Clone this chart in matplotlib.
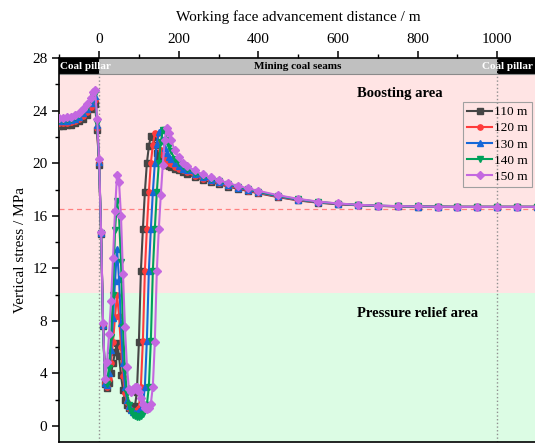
import numpy as np
import matplotlib
matplotlib.use('Agg')
import matplotlib.pyplot as plt
from matplotlib.ticker import MultipleLocator

##### Data #####
# Working face advancement distance, m
dist = [-100, -90, -80, -70, -60, -50, -40, -30, -20, -15, -10, -5, 0,
        5, 10, 15, 20, 25, 30, 35, 40, 45, 50, 55, 60, 65, 70, 75, 80, 85, 90, 95,
        100, 105, 110, 115, 120, 125, 130, 135, 140, 145, 150, 155, 160, 165, 170, 175, 180,
        190, 200, 210, 220,
        240, 260, 280, 300, 325, 350, 375, 400, 450, 500, 550, 600, 650, 700, 750,
        800, 850, 900, 950, 1000, 1050, 1100]

# Vertical stress, MPa
s110 = [22.85, 22.85, 22.9, 22.95, 23.05, 23.2, 23.4, 23.7, 24.1, 24.35, 24.5, 22.5, 19.9,
        14.6, 7.6, 3.2, 2.9, 3.3, 4.0, 4.8, 5.6, 6.3, 5.3, 3.9, 2.7, 2.0, 1.6, 1.4, 1.3, 1.3, 1.5, 2.6,
        6.4, 11.8, 15.0, 17.8, 20.0, 21.3, 22.1, 22.0, 21.4, 20.8, 20.45, 20.25, 20.1, 20.0, 19.9, 19.8, 19.72,
        19.58, 19.45, 19.33, 19.22,
        18.95, 18.75, 18.58, 18.42, 18.22, 18.05, 17.88, 17.72, 17.42, 17.17, 17.0, 16.88, 16.8, 16.75, 16.72,
        16.7, 16.69, 16.68, 16.68, 16.68, 16.68, 16.68]
s120 = [23.05, 23.05, 23.1, 23.15, 23.25, 23.4, 23.6, 23.9, 24.3, 24.6, 24.8, 22.7, 20.0,
        14.7, 7.7, 3.3, 3.0, 3.6, 4.8, 6.4, 8.3, 10.0, 8.4, 6.0, 3.8, 2.5, 1.8, 1.4, 1.2, 1.15, 1.15, 1.2,
        1.4, 3.0, 6.5, 11.8, 15.0, 17.8, 20.0, 21.4, 22.3, 22.2, 21.6, 21.0, 20.6, 20.35, 20.2, 20.05, 19.95,
        19.75, 19.6, 19.45, 19.32,
        19.05, 18.83, 18.65, 18.48, 18.28, 18.1, 17.92, 17.76, 17.45, 17.2, 17.02, 16.9, 16.81, 16.76, 16.72,
        16.7, 16.69, 16.68, 16.68, 16.68, 16.68, 16.68]
s130 = [23.2, 23.2, 23.25, 23.3, 23.4, 23.55, 23.8, 24.1, 24.6, 24.9, 25.1, 22.9, 20.1,
        14.7, 7.7, 3.3, 3.1, 4.0, 5.8, 8.2, 11.0, 13.5, 11.2, 7.8, 4.8, 3.0, 2.0, 1.5, 1.2, 1.05, 1.0, 1.0,
        1.1, 1.3, 1.6, 3.0, 6.5, 11.8, 15.0, 17.8, 20.0, 21.5, 22.4, 22.5, 21.8, 21.2, 20.8, 20.5, 20.3,
        20.0, 19.8, 19.6, 19.45,
        19.15, 18.92, 18.72, 18.55, 18.34, 18.15, 17.97, 17.8, 17.48, 17.23, 17.04, 16.91, 16.82, 16.76, 16.73,
        16.7, 16.69, 16.68, 16.68, 16.68, 16.68, 16.68]
s140 = [23.3, 23.3, 23.35, 23.4, 23.5, 23.7, 23.95, 24.3, 24.8, 25.1, 25.3, 23.1, 20.2,
        14.7, 7.7, 3.4, 3.2, 4.4, 6.8, 10.0, 14.9, 17.1, 16.0, 12.5, 7.5, 4.2, 2.5, 1.6, 1.1, 0.85, 0.75, 0.7,
        0.7, 0.75, 0.9, 1.2, 1.6, 3.0, 6.5, 11.8, 15.0, 17.8, 20.0, 21.6, 22.55, 22.5, 21.8, 21.3, 20.9,
        20.35, 20.05, 19.8, 19.6,
        19.28, 19.03, 18.82, 18.63, 18.41, 18.21, 18.02, 17.85, 17.52, 17.26, 17.06, 16.93, 16.83, 16.77, 16.73,
        16.71, 16.69, 16.68, 16.68, 16.68, 16.68, 16.68]
s150 = [23.45, 23.45, 23.5, 23.55, 23.65, 23.85, 24.1, 24.5, 25.0, 25.4, 25.6, 23.4, 20.3,
        14.8, 7.8, 3.6, 4.9, 7.0, 9.5, 12.8, 16.4, 19.1, 18.6, 16.0, 11.6, 7.5, 4.5, 2.8, 2.6, 2.8, 3.0, 3.0,
        2.6, 2.1, 1.7, 1.4, 1.3, 1.4, 1.7, 3.0, 6.4, 11.8, 15.0, 17.6, 19.9, 21.8, 22.65, 22.3, 21.8,
        21.0, 20.45, 20.05, 19.8,
        19.45, 19.15, 18.92, 18.72, 18.48, 18.27, 18.08, 17.9, 17.56, 17.29, 17.08, 16.94, 16.84, 16.78, 16.74,
        16.71, 16.69, 16.68, 16.68, 16.68, 16.68, 16.68]

labels  = ['110 m', '120 m', '130 m', '140 m', '150 m']
colors  = ['#454545', '#FF3B3B', '#1668D8', '#00A05A', '#C468E0']
markers = ['s', 'o', '^', 'v', 'D']

# Region limits
relief_top = 10.15
band_bot   = 26.77
stress_ref = 16.5

##### Figure #####
plt.rcParams['font.family'] = ['Liberation Serif', 'DejaVu Serif']
fig = plt.figure(figsize=(5.35, 4.43), dpi=100)
ax  = fig.add_axes([0.1108, 0.003, 0.893, 0.8656])

xmin, xmax = -100, 1100
ymin, ymax = -1.2, 28

# Background areas
ax.axhspan(ymin, relief_top, color='#DCFCE4', zorder=0, lw=0)
ax.axhspan(relief_top, band_bot, color='#FFE4E4', zorder=0, lw=0)

# Top band
ax.fill_between([xmin, 0], band_bot, ymax, color='black', lw=0, zorder=1)
ax.fill_between([0, 1000], band_bot, ymax, color='#C0C0C0', lw=0, zorder=1)
ax.fill_between([1000, xmax], band_bot, ymax, color='black', lw=0, zorder=1)
ax.axhline(band_bot, color='#8A8A8A', lw=0.8, zorder=1)
ax.text(-97, (band_bot+ymax)/2, 'Coal pillar', color='white', fontsize=8,
        fontweight='bold', ha='left', va='center', zorder=2)
ax.text(500, (band_bot+ymax)/2, 'Mining coal seams', color='black', fontsize=8,
        fontweight='bold', ha='center', va='center', zorder=2)
ax.text(963, (band_bot+ymax)/2, 'Coal pillar', color='white', fontsize=8,
        fontweight='bold', ha='left', va='center', zorder=2)

# Reference lines
ax.axvline(0, color='#909090', ls=':', lw=1, zorder=1)
ax.axvline(1000, color='#909090', ls=':', lw=1, zorder=1)
ax.axhline(stress_ref, color='#FF8080', ls=(0, (4, 3)), lw=0.9, zorder=1)

# Series
series = [s110, s120, s130, s140, s150]
for s, lab, c, m in zip(series, labels, colors, markers):
    ax.plot(dist, s, color=c, marker=m, markersize=3.8, lw=1.5, label=lab, zorder=3)

ax.text(756, 25.35, 'Boosting area', fontsize=10.5, fontweight='bold',
        ha='center', va='center')
ax.text(800, 8.56, 'Pressure relief area', fontsize=10.5, fontweight='bold',
        ha='center', va='center')

# Axes
ax.set_xlim(xmin, xmax)
ax.set_ylim(ymin, ymax)
ax.xaxis.tick_top()
ax.xaxis.set_label_position('top')
ax.xaxis.set_major_locator(MultipleLocator(200))
ax.xaxis.set_minor_locator(MultipleLocator(100))
ax.yaxis.set_major_locator(MultipleLocator(4))
ax.yaxis.set_minor_locator(MultipleLocator(2))
ax.tick_params(which='major', length=5, width=1.1, labelsize=11, direction='out')
ax.tick_params(which='minor', length=3, width=1.0, direction='out')
ax.set_xlabel('Working face advancement distance / m', fontsize=11, labelpad=9)
ax.set_ylabel('Vertical stress / MPa', fontsize=11, labelpad=4)
for sp in ax.spines.values():
    sp.set_linewidth(1.2)

leg = ax.legend(loc='upper left', bbox_to_anchor=(0.846, 0.886), fontsize=9.5,
                numpoints=1, handlelength=1.9, handletextpad=0.1, labelspacing=0.3,
                borderpad=0.3, borderaxespad=0, fancybox=False, framealpha=1,
                facecolor='none', edgecolor='#A0A0A0')
leg.get_frame().set_linewidth(0.8)

plt.savefig('out.png', dpi=100)
